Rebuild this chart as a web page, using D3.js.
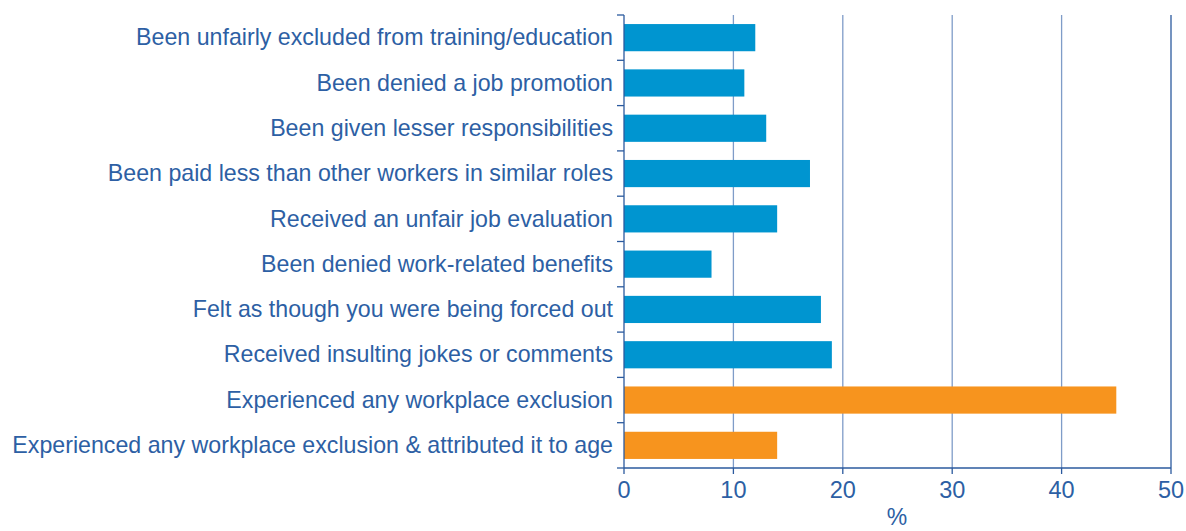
<!DOCTYPE html>
<html><head><meta charset="utf-8">
<script src="https://cdn.jsdelivr.net/npm/d3@7"></script>
<style>body{margin:0;background:#fff;} svg{display:block;}</style>
</head><body><svg id="c" width="1186" height="531"></svg>
<script>
const categories = [
  "Been unfairly excluded from training/education",
  "Been denied a job promotion",
  "Been given lesser responsibilities",
  "Been paid less than other workers in similar roles",
  "Received an unfair job evaluation",
  "Been denied work-related benefits",
  "Felt as though you were being forced out",
  "Received insulting jokes or comments",
  "Experienced any workplace exclusion",
  "Experienced any workplace exclusion & attributed it to age"
];
const values = [12, 11, 13, 17, 14, 8, 18, 19, 45, 14];
const groups = ["detail","detail","detail","detail","detail","detail","detail","detail","summary","summary"];
const xTicks = [0, 10, 20, 30, 40, 50];
const axisTitle = "%";

(function(){
const textColor = "#2d5fa4", axisColor = "#2b5a9e", gridColor = "#7f9cc8";
const colors = {detail: "#0095d0", summary: "#f7941e"};
const font = "Liberation Sans, Arial, sans-serif";
const svg = d3.select("#c");
const L = 624, R = 1171, T = 15, B = 468;
const x = d3.scaleLinear().domain([0, 50]).range([L, R]);
const y = d3.scaleBand().domain(categories).range([T, B]).paddingInner(0.4).paddingOuter(0.2);

svg.append("g").selectAll("line").data(xTicks.slice(1)).join("line")
  .attr("x1", d => x(d)).attr("x2", d => x(d)).attr("y1", T).attr("y2", B)
  .attr("stroke", d => d === 50 ? axisColor : gridColor).attr("stroke-width", 1.3);

svg.append("g").selectAll("rect").data(categories).join("rect")
  .attr("x", x(0)).attr("y", d => y(d))
  .attr("width", (d, i) => x(values[i]) - x(0)).attr("height", y.bandwidth())
  .attr("fill", (d, i) => colors[groups[i]]);

const ya = svg.append("g");
ya.append("line").attr("x1", L).attr("x2", L).attr("y1", T).attr("y2", B).attr("stroke", axisColor).attr("stroke-width", 1.3);
const bounds = d3.range(categories.length + 1).map(i => T + i * (B - T) / categories.length);
ya.selectAll("line.t").data(bounds).join("line").attr("class","t")
  .attr("x1", L - 7).attr("x2", L).attr("y1", d => d).attr("y2", d => d)
  .attr("stroke", axisColor).attr("stroke-width", 1.3);
ya.selectAll("text").data(categories).join("text")
  .attr("x", 613).attr("y", d => y(d) + y.bandwidth() / 2).attr("dy", "0.33em")
  .attr("text-anchor", "end").attr("fill", textColor)
  .style("font-family", font).style("font-size", "23.2px")
  .text(d => d);

const xa = svg.append("g");
xa.append("line").attr("x1", L).attr("x2", R).attr("y1", B).attr("y2", B).attr("stroke", axisColor).attr("stroke-width", 1.5);
xa.selectAll("line.t").data(xTicks).join("line").attr("class","t")
  .attr("x1", d => x(d)).attr("x2", d => x(d)).attr("y1", B).attr("y2", B + 6)
  .attr("stroke", axisColor).attr("stroke-width", 1.3);
xa.selectAll("text").data(xTicks).join("text")
  .attr("x", d => x(d)).attr("y", 498).attr("text-anchor", "middle").attr("fill", textColor)
  .style("font-family", font).style("font-size", "23.5px")
  .text(d => d);
svg.append("text").attr("x", 897).attr("y", 525).attr("text-anchor", "middle").attr("fill", textColor)
  .style("font-family", font).style("font-size", "23px").text(axisTitle);
})();
</script></body></html>
